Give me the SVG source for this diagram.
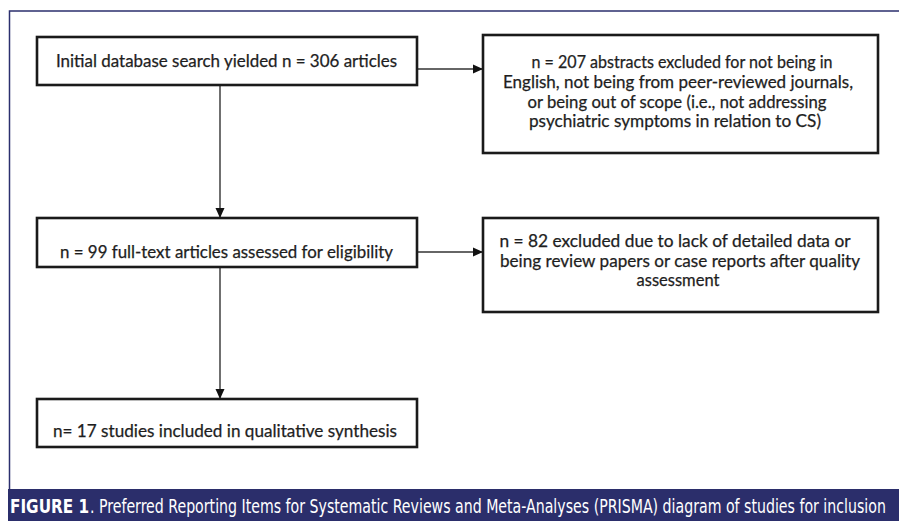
<svg xmlns="http://www.w3.org/2000/svg" width="899" height="521" viewBox="0 0 899 521">
<style>
.box{fill:#ffffff;stroke:#1a1a1a;stroke-width:2.6}
.t{font-family:Lato,"Open Sans","Liberation Sans",sans-serif;font-size:16.5px;fill:#1e1e1e;stroke:#1e1e1e;stroke-width:0.25;text-anchor:middle}
.c{stroke:#333333;stroke-width:1.4;fill:none}
.frame{stroke:#2b2f6e;stroke-width:1.5;fill:none}
.cap{font-family:"DejaVu Sans Condensed","Liberation Sans",sans-serif;font-size:19.5px;fill:#ffffff}
</style>
<defs>
<marker id="ah" markerWidth="10" markerHeight="10" refX="9" refY="5" orient="auto" markerUnits="userSpaceOnUse">
<path d="M0,0.5 L10,5 L0,9.5 Z" fill="#111111"/>
</marker>
</defs>
<rect x="0" y="0" width="899" height="521" fill="#ffffff"/>
<path class="frame" d="M899,11 L9.5,11 L9.5,490"/>
<rect x="8" y="489" width="891" height="32" fill="#2b2e6b"/>
<text class="cap" transform="translate(10,513) scale(0.8,1)" x="0" y="0" font-weight="bold" textLength="99" lengthAdjust="spacingAndGlyphs">FIGURE 1</text>
<text class="cap" transform="translate(90,513) scale(0.7,1)" x="0" y="0" textLength="1137" lengthAdjust="spacingAndGlyphs">. Preferred Reporting Items for Systematic Reviews and Meta-Analyses (PRISMA) diagram of studies for inclusion</text>
<g id="connectors">
<line class="c" x1="220" y1="85" x2="220" y2="217" marker-end="url(#ah)"/>
<line class="c" x1="220" y1="267" x2="220" y2="398" marker-end="url(#ah)"/>
<line class="c" x1="417" y1="69" x2="482" y2="69" marker-end="url(#ah)"/>
<line class="c" x1="417" y1="252" x2="482" y2="252" marker-end="url(#ah)"/>
</g>
<g id="n1">
<rect class="box" x="37" y="37" width="380" height="48"/>
<text class="t" x="226.5" y="67" textLength="341" lengthAdjust="spacingAndGlyphs">Initial database search yielded n = 306 articles</text>
</g>
<g id="n2">
<rect class="box" x="37" y="218" width="380" height="49"/>
<text class="t" x="226.5" y="258" textLength="333" lengthAdjust="spacingAndGlyphs">n = 99 full-text articles assessed for eligibility</text>
</g>
<g id="n3">
<rect class="box" x="37" y="399" width="380" height="48"/>
<text class="t" x="225" y="437" textLength="344" lengthAdjust="spacingAndGlyphs">n= 17 studies included in qualitative synthesis</text>
</g>
<g id="n4">
<rect class="box" x="483" y="35" width="395" height="118"/>
<text class="t" x="682" y="68" textLength="301" lengthAdjust="spacingAndGlyphs">n = 207 abstracts excluded for not being in</text>
<text class="t" x="678" y="88" textLength="350" lengthAdjust="spacingAndGlyphs">English, not being from peer-reviewed  journals,</text>
<text class="t" x="677" y="107.5" textLength="299" lengthAdjust="spacingAndGlyphs">or being out of scope (i.e., not addressing</text>
<text class="t" x="675" y="127" textLength="292" lengthAdjust="spacingAndGlyphs">psychiatric symptoms in relation to CS)</text>
</g>
<g id="n5">
<rect class="box" x="483" y="218" width="395" height="94"/>
<text class="t" x="675" y="247" textLength="351" lengthAdjust="spacingAndGlyphs">n = 82 excluded  due to lack of detailed data or</text>
<text class="t" x="680" y="267" textLength="360" lengthAdjust="spacingAndGlyphs">being review papers or case reports after quality</text>
<text class="t" x="678" y="286">assessment</text>
</g>
</svg>
